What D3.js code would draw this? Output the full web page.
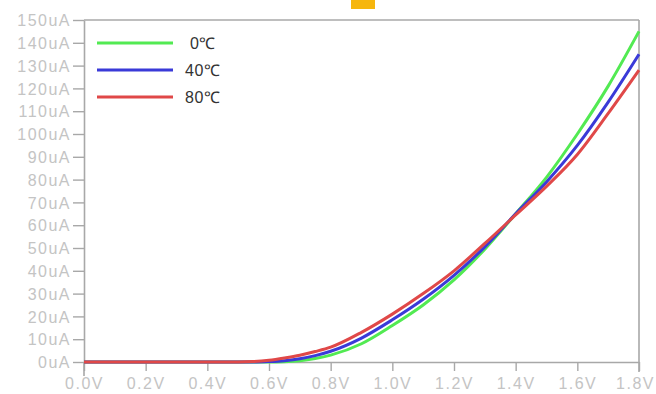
<!DOCTYPE html>
<html>
<head>
<meta charset="utf-8">
<script src="https://cdn.jsdelivr.net/npm/d3@7"></script>
<style>
  body { margin: 0; background: #fff; }
  svg { display: block; }
</style>
</head>
<body>
<div id="chart"></div>
<script>
// data (V, uA)
const volts = [0, 0.2, 0.4, 0.5, 0.55, 0.6, 0.65, 0.7, 0.75, 0.8, 0.9, 1.0, 1.1, 1.2, 1.3, 1.4, 1.5, 1.6, 1.7, 1.8];
const green0 = [0, 0, 0, 0, 0, 0, 0.1, 0.5, 1.5, 3, 8, 16, 25, 36, 49.5, 65, 81, 100, 121, 145];
const blue40 = [0, 0, 0, 0, 0, 0.2, 0.6, 1.4, 2.8, 4.7, 10.5, 18.5, 27.5, 38, 50.5, 65, 79, 95, 114, 135];
const red80 = [0, 0, 0, 0, 0.2, 0.8, 1.8, 3, 4.6, 6.5, 13, 21, 30, 40, 52, 64.5, 77, 91, 109, 128];
const seriesNames = [' 0℃', '40℃', '80℃'];
const seriesColors = ['#52ea52', '#3a3ad8', '#e04848'];
const xTicks = [0, 0.2, 0.4, 0.6, 0.8, 1.0, 1.2, 1.4, 1.6, 1.8];
const yTicks = [0, 10, 20, 30, 40, 50, 60, 70, 80, 90, 100, 110, 120, 130, 140, 150];

const W = 656, H = 394;
const margin = { top: 20, right: 17, bottom: 32, left: 84 };

const svg = d3.select('#chart').append('svg')
  .attr('width', W)
  .attr('height', H);

// little orange block at the top
svg.append('rect')
  .attr('x', 351).attr('y', 0)
  .attr('width', 24).attr('height', 9)
  .attr('fill', '#f6b60e');

const x = d3.scaleLinear().domain([0, 1.8]).range([margin.left, W - margin.right]);
const y = d3.scaleLinear().domain([0, 150]).range([H - margin.bottom, margin.top]);

const axisColor = '#a8a8a8';
const labelColor = '#c4c4c4';

// frame: top and right
svg.append('line')
  .attr('x1', x(0)).attr('x2', x(1.8))
  .attr('y1', y(150)).attr('y2', y(150))
  .attr('stroke', axisColor).attr('stroke-width', 1.6);
svg.append('line')
  .attr('x1', x(1.8)).attr('x2', x(1.8))
  .attr('y1', y(150)).attr('y2', y(0) + 10)
  .attr('stroke', axisColor).attr('stroke-width', 1.6);

// y axis
const yAxis = svg.append('g')
  .attr('transform', 'translate(' + x(0) + ',0)')
  .call(d3.axisLeft(y).tickValues(yTicks).tickSize(11).tickSizeOuter(0)
    .tickFormat(d => d + 'uA'));

// x axis
const xAxis = svg.append('g')
  .attr('transform', 'translate(0,' + y(0) + ')')
  .call(d3.axisBottom(x).tickValues(xTicks).tickSize(9).tickSizeOuter(0)
    .tickFormat(d => d3.format('.1f')(d) + 'V'));

[yAxis, xAxis].forEach(g => {
  g.select('.domain').attr('stroke', axisColor).attr('stroke-width', 1.6);
  g.selectAll('.tick line').attr('stroke', axisColor).attr('stroke-width', 1.4);
  g.selectAll('.tick text')
    .attr('fill', labelColor)
    .style('font-family', 'Liberation Sans, Arial, sans-serif')
    .style('font-size', '16px')
    .style('letter-spacing', '1.5px');
});
yAxis.selectAll('.tick text').attr('x', -13).attr('dy', '0.35em');
xAxis.selectAll('.tick text').attr('y', 16).attr('dy', '0.71em');
// keep the last label inside the window
xAxis.selectAll('.tick text').filter(d => d === 1.8).attr('x', -4);
// left axis runs a bit below zero
svg.append('line')
  .attr('x1', x(0)).attr('x2', x(0))
  .attr('y1', y(0)).attr('y2', y(0) + 14)
  .attr('stroke', axisColor).attr('stroke-width', 1.6);

// curves
const allSeries = [green0, blue40, red80];
const line = d3.line()
  .x((d, i) => x(volts[i]))
  .y(d => y(d))
  .curve(d3.curveMonotoneX);

allSeries.forEach((s, k) => {
  svg.append('path')
    .datum(s)
    .attr('d', line)
    .attr('fill', 'none')
    .attr('stroke', seriesColors[k])
    .attr('stroke-width', 3)
    .attr('stroke-linejoin', 'round');
});

// legend
const legend = svg.append('g');
seriesNames.forEach((name, k) => {
  const ly = 43 + k * 27;
  legend.append('line')
    .attr('x1', 97).attr('x2', 173)
    .attr('y1', ly).attr('y2', ly)
    .attr('stroke', seriesColors[k])
    .attr('stroke-width', 3);
  legend.append('text')
    .attr('x', 185).attr('y', ly)
    .attr('dy', '0.35em')
    .attr('fill', '#333')
    .style('font-family', 'Liberation Sans, Arial, sans-serif')
    .style('font-size', '16px')
    .style('letter-spacing', '0.5px')
    .style('white-space', 'pre')
    .text(name);
});
</script>
</body>
</html>
